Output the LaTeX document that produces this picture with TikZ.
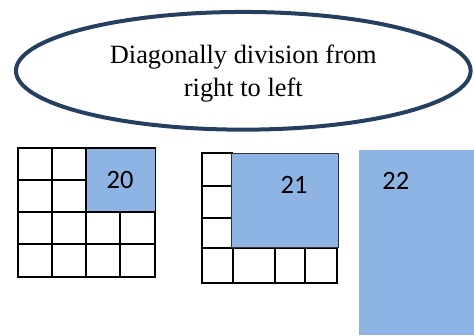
\documentclass[tikz,border=0pt]{standalone}
\usepackage{fontspec}
\setmainfont{Liberation Serif}
\newfontfamily\calibri{Carlito}
\usetikzlibrary{shapes.geometric}
\definecolor{navy}{RGB}{36,63,96}
\definecolor{lblue}{RGB}{141,180,227}
\begin{document}
\begin{tikzpicture}[x=1pt,y=-1pt,
  gridline/.style={line width=1.7pt, line cap=rect},
  bluebox/.style={fill=lblue, draw=black, line width=1.6pt},
  num/.style={font=\calibri\fontsize{26.5}{30}\selectfont, inner sep=0pt},
  titletext/.style={font=\fontsize{26.4}{33}\selectfont, inner sep=0pt, anchor=base}]
\useasboundingbox (0,0) rectangle (474,335);
% title ellipse
\node[draw=navy, line width=4pt, ellipse, minimum width=454.7pt, minimum height=117.7pt, inner sep=0pt] (title) at (243.3,70.8) {};
\node[titletext] (t1) at (243.3,63.3) {Diagonally division from};
\node[titletext] (t2) at (243.3,96.7) {right to left};
% grid 1
\draw[gridline] (18.3,148.3) -- (18.3,277.3);
\draw[gridline] (51.7,148.3) -- (51.7,277.3);
\draw[gridline] (85.7,148.3) -- (85.7,277.3);
\draw[gridline] (120,211.7) -- (120,277.3);
\draw[gridline] (155,148.3) -- (155,277.3);
\draw[gridline] (18.3,148.3) -- (155,148.3);
\draw[gridline] (18.3,180) -- (85.7,180);
\draw[gridline] (18.3,211.7) -- (155,211.7);
\draw[gridline] (18.3,244.3) -- (155,244.3);
\draw[gridline] (18.3,277.3) -- (155,277.3);
\draw[bluebox] (85.7,148.3) rectangle (155.5,211.5);
\node[num] (n20) at (120,180) {20};
% grid 2
\draw[gridline] (202.3,153.3) -- (202.3,283.3);
\draw[gridline] (233.3,248.3) -- (233.3,283.3);
\draw[gridline] (275,248.3) -- (275,283.3);
\draw[gridline] (305,248.3) -- (305,283.3);
\draw[gridline] (336.7,248.3) -- (336.7,283.3);
\draw[gridline] (202.3,153.3) -- (231.7,153.3);
\draw[gridline] (202.3,185.7) -- (231.7,185.7);
\draw[gridline] (202.3,217.7) -- (231.7,217.7);
\draw[gridline] (202.3,248.3) -- (336.7,248.3);
\draw[gridline] (202.3,283.3) -- (336.7,283.3);
\draw[bluebox, draw=black!80, line width=1.4pt] (231.7,153.3) rectangle (338.3,247.3);
\node[num] (n21) at (294,184.7) {21};
% box 22
\fill[lblue] (359.3,150) rectangle (474,335);
\node[num] (n22) at (395.8,180.8) {22};
\end{tikzpicture}
\end{document}
